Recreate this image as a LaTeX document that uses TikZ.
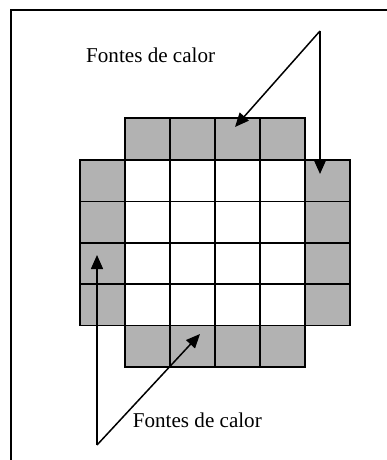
\documentclass[tikz,border=0pt]{standalone}
\usepackage{fontspec}
\setmainfont{Liberation Serif}
\usetikzlibrary{arrows.meta}
\begin{document}
\begin{tikzpicture}[x=1pt,y=-1pt,
  cell/.style={draw=black,line width=1.8pt,minimum width=45pt,minimum height=41.5pt,inner sep=0pt,anchor=north west},
  hot/.style={cell,fill=black!30},
  cold/.style={cell,fill=white},
  lbl/.style={inner sep=0pt,anchor=base west,font=\fontsize{21.1}{25}\selectfont},
  arr/.style={line width=1.5pt,-{Triangle[length=14pt,width=12pt]}},
  frame/.style={line width=2.2pt}]
\useasboundingbox (0,0) rectangle (387,460);
% frame
\coordinate (fA) at (11,460);
\coordinate (fB) at (11,10);
\coordinate (fC) at (387,10);
\draw[frame] (fA) -- (fB) -- (fC);
% top and bottom rows
\foreach \i/\x in {1/124,2/169,3/214,4/259} {
  \node[hot] (t\i) at (\x,117) {};
  \node[hot] (b\i) at (\x,324.5) {};
}
% side columns and interior
\foreach \j/\y in {1/159,2/200.5,3/242,4/283} {
  \node[hot] (l\j) at (79,\y) {};
  \node[hot] (r\j) at (304,\y) {};
  \foreach \i/\x in {1/124,2/169,3/214,4/259} {
    \node[cold] (c\j\i) at (\x,\y) {};
  }
}
% labels
\node[lbl] (lab1) at (86,63) {Fontes de calor};
\node[lbl] (lab2) at (132.7,427) {Fontes de calor};
% arrows
\coordinate (ta) at (320,31);
\coordinate (tt1) at (235,127);
\coordinate (tt2) at (320,174);
\draw[arr] (ta) -- (tt1);
\draw[arr] (ta) -- (tt2);
\coordinate (ba) at (97,445);
\coordinate (bt1) at (97,255);
\coordinate (bt2) at (200,334);
\draw[arr] (ba) -- (bt1);
\draw[arr] (ba) -- (bt2);
\end{tikzpicture}
\end{document}
